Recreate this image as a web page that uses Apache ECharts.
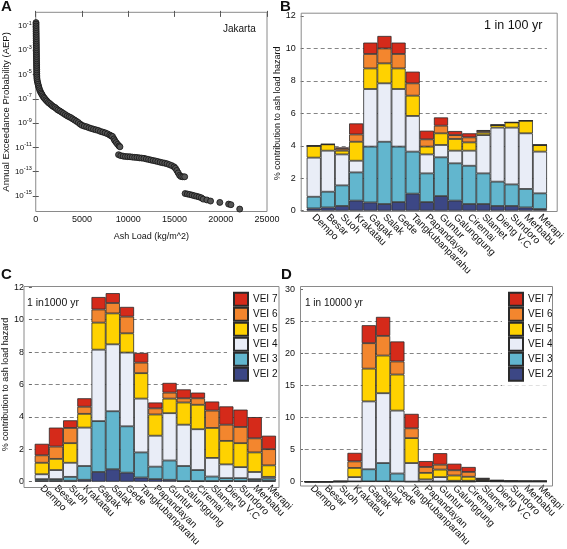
<!DOCTYPE html>
<html><head><meta charset="utf-8">
<script src="https://cdn.jsdelivr.net/npm/echarts@6/dist/echarts.min.js"></script>
<style>html,body{margin:0;padding:0;background:#fff}#c{width:567px;height:549px}</style>
</head><body><div id="c"></div>
<script>
// ---------- Panel A data (ash load vs log10 AEP) ----------
const ashLoad = [30,30,35,35,40,40,45,45,50,50,55,55,60,60,65,65,70,70,75,75,80,80,85,90,90,95,100,100,105,110,120,130,
 160,200,250,300,360,420,500,580,660,750,850,950,1080,1200,1350,1500,1650,1800,1950,2100,2250,2400,2600,2800,3000,3200,3400,3600,3800,4000,4200,4400,4600,4800,5000,5250,5500,5750,6000,6250,6500,6750,7000,7250,7500,7750,8000,8150,8300,8450,8550,8700,8850,9000,9100,
 8950,9200,9450,9700,9950,10200,10450,10700,10950,11200,11450,11700,11950,12200,12450,12700,12950,13200,13450,13700,13950,14200,14450,14700,14950,15100,15250,15400,15550,15700,15900,16100,
 16150,16400,16650,16900,17150,17400,17650,17900,18100,18500,18900,19900,20850,21100,22050];
const logAEP = [-0.72,-0.85,-1.0,-1.15,-1.3,-1.45,-1.6,-1.75,-1.9,-2.05,-2.2,-2.35,-2.5,-2.65,-2.8,-2.95,-3.1,-3.25,-3.4,-3.55,-3.7,-3.85,-4.0,-4.15,-4.3,-4.45,-4.6,-4.75,-4.9,-5.05,-5.2,-5.35,
 -5.5,-5.65,-5.8,-5.95,-6.1,-6.25,-6.4,-6.52,-6.62,-6.75,-6.87,-6.96,-7.08,-7.18,-7.3,-7.38,-7.48,-7.58,-7.66,-7.72,-7.82,-7.92,-8.0,-8.1,-8.2,-8.3,-8.4,-8.48,-8.55,-8.65,-8.75,-8.85,-8.95,-9.08,-9.18,-9.25,-9.3,-9.38,-9.44,-9.5,-9.55,-9.6,-9.68,-9.74,-9.8,-9.88,-9.98,-10.05,-10.1,-10.3,-10.45,-10.6,-10.75,-10.88,-10.95,
 -11.6,-11.68,-11.72,-11.75,-11.76,-11.77,-11.8,-11.82,-11.83,-11.86,-11.88,-11.9,-11.95,-11.99,-12.04,-12.08,-12.12,-12.17,-12.22,-12.26,-12.3,-12.35,-12.42,-12.5,-12.6,-12.72,-12.9,-13.1,-13.3,-13.4,-13.42,-13.42,
 -14.8,-14.84,-14.88,-14.93,-14.98,-15.03,-15.08,-15.15,-15.26,-15.33,-15.42,-15.53,-15.67,-15.72,-16.08];
const ashTicks = [0,5000,10000,15000,20000,25000];
const aepTickExps = [-1,-3,-5,-7,-9,-11,-13,-15];

// ---------- Volcanoes / VEI ----------
const volcanoes = ['Dempo','Besar','Suoh','Krakatau','Gagak','Salak','Gede','Tangkubanparahu','Papandayan','Guntur','Galunggung','Ciremai','Slamet','Dieng V.C','Sundoro','Merbabu','Merapi'];
const veiNames = ['VEI 2','VEI 3','VEI 4','VEI 5','VEI 6','VEI 7'];

// B: 1 in 100 yr
const b_vei2 = [0.14,0.2,0.29,0.62,0.51,0.41,0.53,1.05,0.53,0.9,0.62,0.41,0.41,0.29,0.29,0.2,0.1];
const b_vei3 = [0.72,0.97,1.27,1.74,3.44,3.84,3.42,2.59,1.77,2.39,2.3,2.36,1.89,1.5,1.33,1.14,0.97];
const b_vei4 = [2.41,2.53,1.91,0.72,3.55,3.6,3.55,2.2,1.17,0.76,0.78,0.93,2.36,3.33,3.5,3.43,2.57];
const b_vei5 = [0.73,0.39,0.23,1.17,1.27,1.23,1.27,1.25,0.48,0.72,0.72,0.51,0.15,0.16,0.32,0.78,0.41];
const b_vei6 = [0,0,0.12,0.45,0.89,0.92,0.89,0.76,0.45,0.47,0.24,0.31,0.1,0,0,0,0];
const b_vei7 = [0,0,0.08,0.68,0.7,0.77,0.7,0.72,0.53,0.51,0.25,0.25,0.06,0,0,0,0];

// C: 1 in 1000 yr
const c_vei2 = [0.06,0.06,0.06,0.12,0.6,0.77,0.56,0.26,0.16,0.12,0.04,0.04,0.04,0.05,0.04,0.06,0.05];
const c_vei3 = [0.1,0.1,0.24,0.85,3.14,3.58,2.86,1.55,0.77,1.19,0.93,0.68,0.28,0.17,0.18,0.1,0.15];
const c_vei4 = [0.3,0.56,0.87,2.37,4.41,4.13,4.55,3.32,1.91,2.92,2.55,2.52,1.15,0.85,0.68,0.44,0.1];
const c_vei5 = [0.71,0.69,1.21,0.85,1.67,1.91,1.19,1.57,1.31,0.9,1.37,1.51,1.85,1.45,1.48,1.21,0.71];
const c_vei6 = [0.46,0.76,0.94,0.44,0.81,0.64,1.03,0.65,0.38,0.37,0.26,0.4,1.07,1.0,1.0,0.87,1.0];
const c_vei7 = [0.71,1.17,0.47,0.52,0.77,0.61,0.6,0.6,0.36,0.6,0.55,0.35,0.56,1.13,1.07,1.31,0.83];

// D: 1 in 10000 yr
const d_vei2 = [0,0,0,0.02,0.05,0.05,0.03,0.01,0.01,0.01,0.01,0.01,0.05,0.02,0.01,0.01,0.01];
const d_vei3 = [0,0,0.01,0.03,1.89,2.86,1.25,0.01,0.02,0.02,0.02,0.02,0.05,0.03,0.02,0.02,0.02];
const d_vei4 = [0.01,0.01,0.02,0.67,10.58,10.89,9.81,2.89,0.33,0.69,0.12,0.12,0.05,0.05,0.03,0.02,0.02];
const d_vei5 = [0,0,0.02,1.43,5.11,5.87,5.62,3.89,1.02,1.17,0.82,0.62,0.15,0.05,0.03,0.02,0.02];
const d_vei6 = [0,0,0.02,1.02,3.97,3.07,2.04,1.53,0.92,0.77,0.82,0.76,0.15,0.05,0.02,0.02,0.02];
const d_vei7 = [0,0,0.03,1.33,2.8,2.96,3.12,2.25,0.92,1.79,1.02,0.77,0.15,0.05,0.02,0.02,0.02];

// ---------- style ----------
const FONT = 'Liberation Sans, Arial, Helvetica, sans-serif';
const veiColors = ['#3c4785','#62b6ce','#e9edf7','#ffd200','#f3862e','#d52a1a'];
const frameColor = '#8a8a8a';
const gridDash = ['rgba(0,0,0,0)','#666','#666','#666','#666','#666','rgba(0,0,0,0)'];

const chart = echarts.init(document.getElementById('c'), null, {renderer:'canvas'});

function catAxis(gi){
  return {type:'category', gridIndex:gi, data:volcanoes, boundaryGap:true,
    axisLine:{show:false}, axisTick:{show:false},
    axisLabel:{interval:0, rotate:-45, fontSize:10, color:'#111', fontFamily:FONT, margin:5}};
}
function pctAxis(gi, max, interval, offset){
  return {type:'value', gridIndex:gi, min:0, max:max, interval:interval, offset:offset,
    axisLine:{show:false},
    axisTick:{show:true, inside:true, length:3, lineStyle:{color:'#666'}},
    axisLabel:{fontSize:9, color:'#111', fontFamily:FONT, margin:5},
    splitLine:{show:true, lineStyle:{color:gridDash, type:[4,3], width:0.8}}};
}

const panels = [
  {gi:1, xi:2, yi:2, data:[b_vei2,b_vei3,b_vei4,b_vei5,b_vei6,b_vei7]},
  {gi:2, xi:3, yi:3, data:[c_vei2,c_vei3,c_vei4,c_vei5,c_vei6,c_vei7]},
  {gi:3, xi:4, yi:4, data:[d_vei2,d_vei3,d_vei4,d_vei5,d_vei6,d_vei7]}
];
const barSeries = [];
panels.forEach(p => {
  p.data.forEach((arr, k) => {
    barSeries.push({type:'bar', name:veiNames[k], xAxisIndex:p.xi, yAxisIndex:p.yi,
      stack:'s'+p.gi, data:arr, barCategoryGap:'0%', barGap:'0%',
      itemStyle:{color:veiColors[k], borderColor:'#2a2a2a', borderWidth:0.8},
      emphasis:{disabled:true}, animation:false});
  });
});

function frame(x0,y0,x1,y1){
  return {type:'rect', z:100, silent:true,
    shape:{x:x0+0.5, y:y0+0.5, width:x1-x0, height:y1-y0},
    style:{fill:null, stroke:frameColor, lineWidth:1}};
}
function txt(x,y,s,size,bold){
  return {type:'text', x:x, y:y, z:100, silent:true,
    style:{text:s, fontSize:size, fontWeight:bold?'bold':'normal', fontFamily:FONT, fill:'#111'}};
}
function legend(left, top){
  return {show:true, orient:'vertical', left:left, top:top, itemGap:0, itemWidth:14, itemHeight:13,
    icon:'rect', backgroundColor:'#fff', padding:[4,5,4,6],
    data:['VEI 7','VEI 6','VEI 5','VEI 4','VEI 3','VEI 2'],
    textStyle:{fontSize:10, color:'#111', fontFamily:FONT, lineHeight:13},
    selectedMode:false, inactiveColor:'#ccc'};
}

const option = {
  animation:false,
  textStyle:{fontFamily:FONT},
  grid:[
    {left:31, top:12.3, width:236, height:199.2, show:true, borderColor:frameColor, borderWidth:1, backgroundColor:'#fff'},
    {left:306.7, top:16, width:247.3, height:194.7},
    {left:29.3, top:287.3, width:246.7, height:198.7},
    {left:304.7, top:289.3, width:246.3, height:195.7}
  ],
  xAxis:[
    {type:'value', gridIndex:0, min:0, max:25000, interval:5000,
     axisLine:{show:false}, axisTick:{show:true, inside:true, length:3, lineStyle:{color:'#555'}},
     axisLabel:{fontSize:9, color:'#111', fontFamily:FONT, margin:4, customValues:ashTicks, formatter: v => String(v)},
     splitLine:{show:false},
     name:'Ash Load (kg/m^2)', nameLocation:'middle', nameGap:21,
     nameTextStyle:{fontSize:9, color:'#111', fontFamily:FONT}},
    {type:'value', gridIndex:0, position:'top', min:0, max:25000, interval:5000,
     axisLine:{show:false}, axisTick:{show:true, inside:true, length:3, lineStyle:{color:'#555'}},
     axisLabel:{show:false}, splitLine:{show:false}},
    catAxis(1), catAxis(2), catAxis(3)
  ],
  yAxis:[
    {type:'value', gridIndex:0, min:-16.28, max:0.13,
     axisLine:{show:false},
     axisTick:{show:true, inside:true, length:3, customValues:aepTickExps, lineStyle:{color:'#555'}},
     axisLabel:{customValues:aepTickExps, color:'#111', fontFamily:FONT, margin:4,
       formatter: v => '{b|10}{s|' + v + '}',
       rich:{b:{fontSize:8, fontFamily:FONT, color:'#111', lineHeight:12}, s:{fontSize:5.5, fontFamily:FONT, color:'#111', verticalAlign:'top', lineHeight:12}}},
     splitLine:{show:false},
     name:'Annual Exceedance Probability (AEP)', nameLocation:'middle', nameGap:22,
     nameTextStyle:{fontSize:9.5, color:'#111', fontFamily:FONT}},
    {type:'value', gridIndex:0, position:'right', min:-16.28, max:0.13,
     axisLine:{show:false},
     axisTick:{show:true, inside:true, length:3, customValues:aepTickExps, lineStyle:{color:'#555'}},
     axisLabel:{show:false}, splitLine:{show:false}},
    Object.assign(pctAxis(1, 12, 2, 6), {name:'% contribution to ash load hazard', nameLocation:'middle', nameGap:15,
      nameTextStyle:{fontSize:9, color:'#111', fontFamily:FONT}}),
    Object.assign(pctAxis(2, 12, 2, 5.8), {name:'% contribution to ash load hazard', nameLocation:'middle', nameGap:15,
      nameTextStyle:{fontSize:9, color:'#111', fontFamily:FONT}}),
    pctAxis(3, 30, 5, 4.7)
  ],
  legend:[legend(227, 287.7), legend(502, 287.7)],
  graphic:[
    frame(300.7,12.7,556.7,211),
    frame(23.5,286,278.5,487),
    frame(300,286,552,485.5),
    txt(1,-1,'A',15,true), txt(280,-1,'B',15,true), txt(1,267,'C',15,true), txt(281,267,'D',15,true),
    txt(223,24,'Jakarta',10,false),
    txt(484,19,'1 in 100 yr',12.5,false),
    txt(27,298,'1 in1000 yr',10.5,false),
    txt(305,298,'1 in 10000 yr',10,false)
  ],
  series:[
    {type:'scatter', xAxisIndex:0, yAxisIndex:0, symbol:'circle', symbolSize:6,
     data: ashLoad.map((x,i) => [x, logAEP[i]]),
     itemStyle:{color:'#555', borderColor:'#111', borderWidth:0.8, opacity:1},
     emphasis:{disabled:true}}
  ].concat(barSeries)
};
chart.setOption(option);
</script>
</body></html>
